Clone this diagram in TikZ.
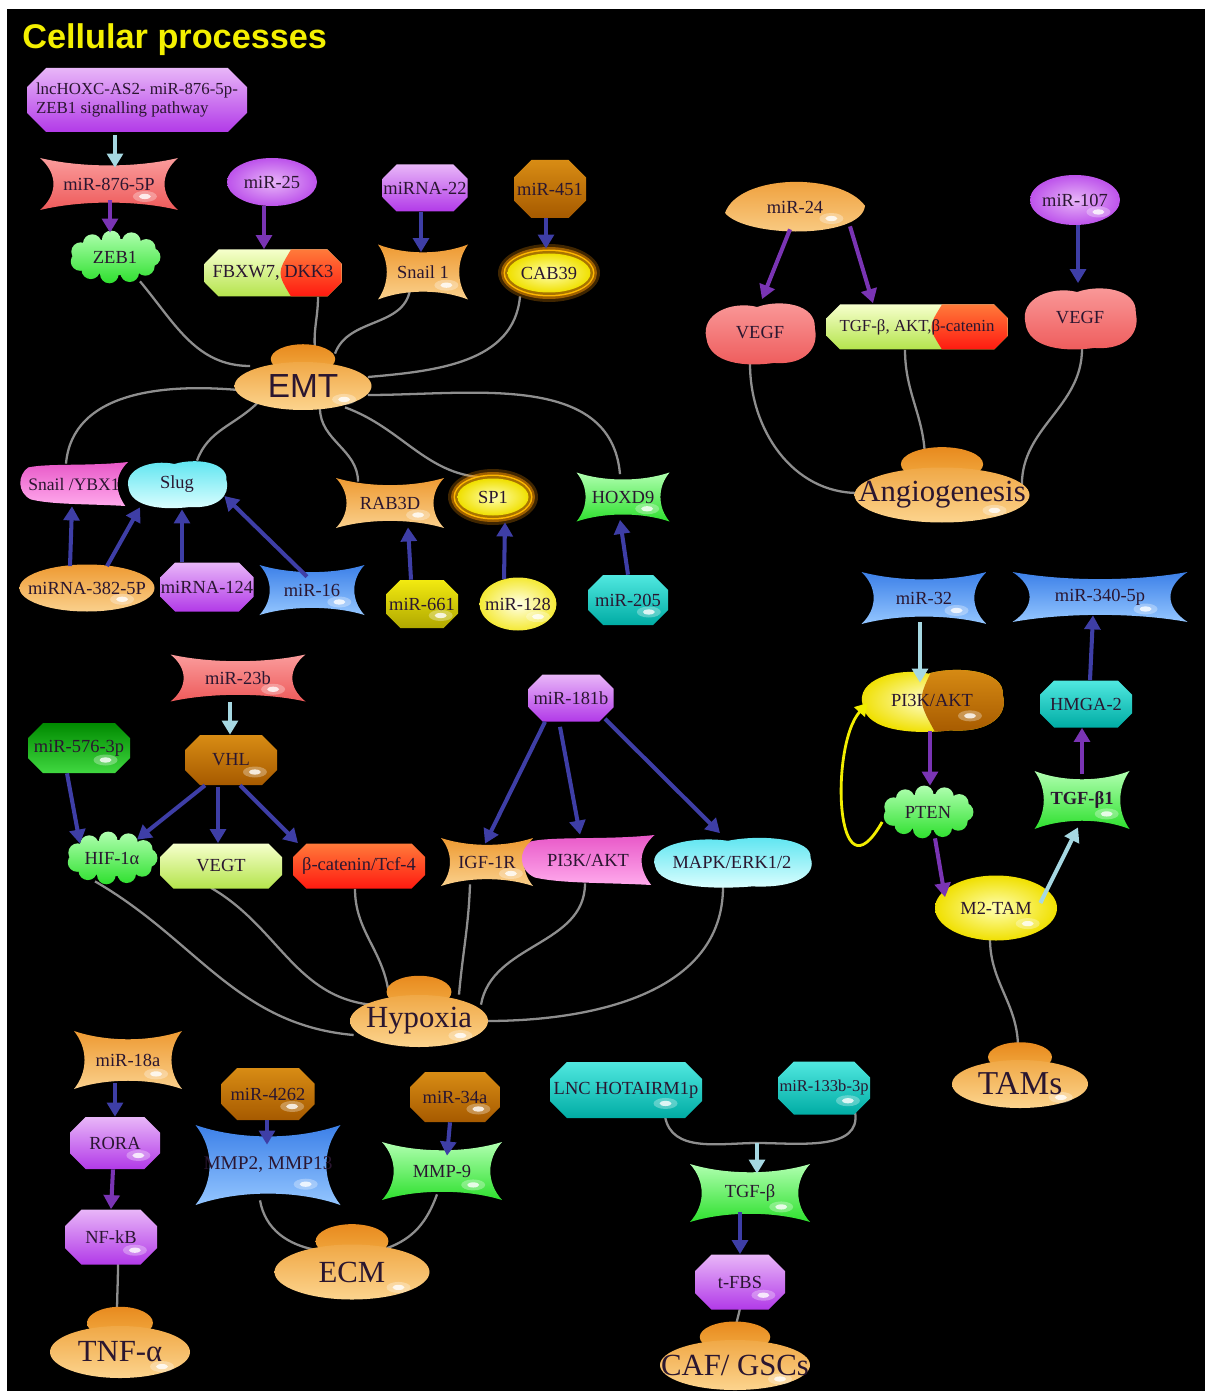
\documentclass[tikz,border=0pt]{standalone}
\usepackage{fontspec}
\setmainfont{Liberation Serif}
\newfontfamily\sansb{Liberation Sans}
\usetikzlibrary{arrows.meta,calc}
\definecolor{purL}{HTML}{E8B6F8}\definecolor{purD}{HTML}{B23AE8}
\definecolor{salL}{HTML}{FA9C9C}\definecolor{salD}{HTML}{EE5A5A}
\definecolor{grnL}{HTML}{B0FFB0}\definecolor{grnD}{HTML}{2EE02E}
\definecolor{orgL}{HTML}{FAD08C}\definecolor{orgD}{HTML}{EE9A32}
\definecolor{brnL}{HTML}{D88C14}\definecolor{brnD}{HTML}{A65A00}
\definecolor{yelL}{HTML}{FFFFB0}\definecolor{yelD}{HTML}{F0E000}
\definecolor{cynL}{HTML}{E0FFFF}\definecolor{cynD}{HTML}{58E4F0}
\definecolor{tealL}{HTML}{50E8E0}\definecolor{tealD}{HTML}{00ACA4}
\definecolor{bluL}{HTML}{94C6FF}\definecolor{bluD}{HTML}{3C80E8}
\definecolor{pnkL}{HTML}{FFAAEC}\definecolor{pnkD}{HTML}{E858C8}
\definecolor{lgyL}{HTML}{F6FFCC}\definecolor{lgyD}{HTML}{B4E44C}
\definecolor{redL}{HTML}{FF7A3A}\definecolor{redD}{HTML}{FF1A10}
\definecolor{dgrL}{HTML}{40D840}\definecolor{dgrD}{HTML}{008A00}
\definecolor{olvL}{HTML}{F2EA10}\definecolor{olvD}{HTML}{B0A800}
\definecolor{glowD}{HTML}{A87400}\definecolor{glowO}{HTML}{FF9A00}
\definecolor{pbT}{HTML}{E88A1E}\definecolor{pbB}{HTML}{F2AC44}
\definecolor{pmT}{HTML}{F0A846}\definecolor{pmB}{HTML}{FCD48E}
\definecolor{arB}{HTML}{3E3EA6}\definecolor{arP}{HTML}{7A34B4}
\definecolor{arL}{HTML}{A6D8E2}\definecolor{grayc}{HTML}{8E8E8E}
\definecolor{yelA}{HTML}{F2EE00}\definecolor{txt}{HTML}{2A1630}
\definecolor{titleY}{HTML}{F4F000}
\pgfdeclarelayer{bg}\pgfdeclarelayer{lines}\pgfsetlayers{bg,lines,main}
\tikzset{
 lbl/.style={font=\fontsize{10.5}{12}\selectfont, text=txt, inner sep=0pt, align=center},
 big/.style={font=\fontsize{17.5}{20}\selectfont, text=txt, inner sep=0pt, align=center},
 purp/.style={top color=purL,bottom color=purD},
 purR/.style={inner color=purL,outer color=purD!80!purL},
 sal/.style={top color=salL,bottom color=salD},
 grn/.style={top color=grnL,bottom color=grnD},
 org/.style={top color=orgD,bottom color=orgL},
 brn/.style={top color=brnL,bottom color=brnD},
 yelR/.style={inner color=yelL,outer color=yelD},
 yelT/.style={inner color=yelL!50!white,outer color=yelD},
 lyR/.style={inner color=white!70!yelL,outer color=yelD!70!yelL},
 cyn/.style={top color=cynD,bottom color=cynL},
 teal/.style={top color=tealL,bottom color=tealD},
 blu/.style={top color=bluD,bottom color=bluL},
 pnk/.style={top color=pnkD,bottom color=pnkL},
 lgy/.style={top color=lgyL,bottom color=lgyD},
 red/.style={top color=redL,bottom color=redD},
 dgr/.style={top color=dgrD,bottom color=dgrL},
 olv/.style={top color=olvL,bottom color=olvD},
 pmain/.style={top color=pmT,bottom color=pmB},
 ab/.style={draw=arB,line width=2.3pt,-{Triangle[width=9pt,length=8pt]}},
 ap/.style={draw=arP,line width=2.3pt,-{Triangle[width=9pt,length=8pt]}},
 al/.style={draw=arL,line width=2.3pt,-{Triangle[width=9pt,length=8pt]}},
 ay/.style={draw=yelA,line width=1.6pt,-{Triangle[width=8pt,length=7pt]}},
 gl/.style={draw=grayc,line width=1.3pt},
 pics/pOcto/.style n args={3}{code={%
  \pgfmathsetmacro\shW{#1/2}\pgfmathsetmacro\shH{#2/2}\pgfmathsetmacro\shC{0.3*#2}%
  \shade[#3] (-\shW+\shC,-\shH) -- (\shW-\shC,-\shH) -- (\shW,-\shH+\shC) -- (\shW,\shH-\shC) -- (\shW-\shC,\shH) -- (-\shW+\shC,\shH) -- (-\shW,\shH-\shC) -- (-\shW,-\shH+\shC) -- cycle;}},
 pics/pStar/.style n args={3}{code={%
  \pgfmathsetmacro\shW{#1/2}\pgfmathsetmacro\shH{#2/2}%
  \shade[#3] (-\shW,-\shH) .. controls (-0.4*\shW,-0.62*\shH) and (0.4*\shW,-0.62*\shH) .. (\shW,-\shH) .. controls (0.74*\shW,-0.4*\shH) and (0.74*\shW,0.4*\shH) .. (\shW,\shH) .. controls (0.4*\shW,0.62*\shH) and (-0.4*\shW,0.62*\shH) .. (-\shW,\shH) .. controls (-0.74*\shW,0.4*\shH) and (-0.74*\shW,-0.4*\shH) .. cycle;}},
 pics/pEll/.style n args={3}{code={%
  \pgfmathsetmacro\shW{#1/2}\pgfmathsetmacro\shH{#2/2}%
  \shade[#3] (0,0) ellipse ({\shW} and {\shH});}},
 pics/pBlob/.style n args={3}{code={%
  \pgfmathsetmacro\shW{#1/2}\pgfmathsetmacro\shH{#2/2}%
  \shade[#3] (-0.95*\shW,0.15*\shH) .. controls (-1.05*\shW,-0.6*\shH) and (-0.5*\shW,-1.0*\shH) .. (-0.05*\shW,-0.8*\shH) .. controls (0.35*\shW,-1.05*\shH) and (1.0*\shW,-0.9*\shH) .. (0.97*\shW,-0.15*\shH) .. controls (1.05*\shW,0.45*\shH) and (0.8*\shW,1.0*\shH) .. (0.25*\shW,0.92*\shH) .. controls (-0.25*\shW,1.05*\shH) and (-0.9*\shW,0.95*\shH) .. cycle;}},
 pics/pLeaf/.style n args={3}{code={%
  \pgfmathsetmacro\shW{#1/2}\pgfmathsetmacro\shH{#2/2}%
  \shade[#3] (-\shW,0.25*\shH) .. controls (-0.8*\shW,-1.4*\shH) and (0.65*\shW,-1.45*\shH) .. (\shW,-0.05*\shH) .. controls (0.95*\shW,1.35*\shH) and (-0.7*\shW,1.3*\shH) .. cycle;}},
 pics/pNotch/.style n args={3}{code={%
  \pgfmathsetmacro\shW{#1/2}\pgfmathsetmacro\shH{#2/2}%
  \shade[#3] (-0.85*\shW,-0.75*\shH) .. controls (-0.5*\shW,-0.95*\shH) and (0.3*\shW,-0.8*\shH) .. (\shW,-\shH) .. controls (0.75*\shW,-0.4*\shH) and (0.75*\shW,0.3*\shH) .. (0.95*\shW,\shH) .. controls (0.3*\shW,0.9*\shH) and (-0.4*\shW,0.95*\shH) .. (-0.8*\shW,0.7*\shH) .. controls (-1.05*\shW,0.4*\shH) and (-1.05*\shW,-0.4*\shH) .. cycle;}},
 pics/pCloud/.style n args={3}{code={%
  \pgfmathsetmacro\shW{#1/2}\pgfmathsetmacro\shH{#2/2}%
  \shade[#3] (0,0) ellipse ({0.8*\shW} and {0.7*\shH}) foreach \a in {0,33,...,330} {({0.76*\shW*cos(\a)},{0.66*\shH*sin(\a)}) circle ({0.36*\shH})};}},
 pics/pSplit/.style n args={3}{code={%
  \pgfmathsetmacro\shW{#1/2}\pgfmathsetmacro\shH{#2/2}\pgfmathsetmacro\shC{0.3*#2}%
  \begin{scope}
  \clip (-\shW+\shC,-\shH) -- (\shW-\shC,-\shH) -- (\shW,-\shH+\shC) -- (\shW,\shH-\shC) -- (\shW-\shC,\shH) -- (-\shW+\shC,\shH) -- (-\shW,\shH-\shC) -- (-\shW,-\shH+\shC) -- cycle;
  \shade[top color=lgyL,bottom color=lgyD] (-\shW,-\shH) rectangle (\shW,\shH);
  \shade[top color=redL,bottom color=redD] (#3,-\shH) .. controls ({#3-14},0) .. (#3,\shH) -- (\shW,\shH) -- (\shW,-\shH) -- cycle;
  \end{scope}}},
 pics/pTwo/.style n args={3}{code={%
  \pgfmathsetmacro\shW{#1/2}\pgfmathsetmacro\shH{#2/2}%
  \begin{scope}
  \clip (-0.95*\shW,0.15*\shH) .. controls (-1.05*\shW,-0.6*\shH) and (-0.5*\shW,-1.0*\shH) .. (-0.05*\shW,-0.8*\shH) .. controls (0.35*\shW,-1.05*\shH) and (1.0*\shW,-0.9*\shH) .. (0.97*\shW,-0.15*\shH) .. controls (1.05*\shW,0.45*\shH) and (0.8*\shW,1.0*\shH) .. (0.25*\shW,0.92*\shH) .. controls (-0.25*\shW,1.05*\shH) and (-0.9*\shW,0.95*\shH) .. cycle;
  \shade[#3] (-\shW,-\shH) rectangle (\shW,\shH);
  \shade[top color=brnL,bottom color=brnD] (0.02*\shW,-\shH) .. controls (-0.2*\shW,0) .. (0.05*\shW,\shH) -- (\shW,\shH) -- (\shW,-\shH) -- cycle;
  \end{scope}}},
 pics/pGlow/.style n args={3}{code={%
  \pgfmathsetmacro\shW{#1/2}\pgfmathsetmacro\shH{#2/2}%
  \fill[glowO,opacity=.25] (0,0) ellipse ({\shW+7} and {\shH+7});
  \fill[glowO,opacity=.5] (0,0) ellipse ({\shW+4} and {\shH+4});
  \fill[glowO!70!yellow] (0,0) ellipse ({\shW+1.5} and {\shH+1.5});
  \fill[glowD] (0,0) ellipse ({\shW} and {\shH});
  \shade[#3] (0,0) ellipse ({\shW-2.5} and {\shH-2.5});}},
 pics/pProc/.style n args={3}{code={%
  \pgfmathsetmacro\shW{#1/2}\pgfmathsetmacro\shH{#2/2}%
  \shade[top color=pbT,bottom color=pbB] (0,{-1.12*\shH}) ellipse ({0.47*\shW} and {0.62*\shH});
  \shade[#3] (0,0) ellipse ({\shW} and {\shH});}},
}
\newcommand\glossat[2]{\fill[white,opacity=.3] (#1,#2) ellipse (12 and 5.5);\fill[white,opacity=.8] (#1,#2) ellipse (6 and 2.6);}
\newcommand\E[8]{\pic at (#2,#3) {#6={#4}{#5}{#7}};%
 \node[lbl,minimum width={#4*0.02cm},minimum height={#5*0.02cm}] (#1) at (#2,#3) {#8};}
\newcommand\EG[8]{\pic at (#2,#3) {#6={#4}{#5}{#7}};%
 \glossat{#2+0.26*#4}{#3+0.24*#5}%
 \node[lbl,minimum width={#4*0.02cm},minimum height={#5*0.02cm}] (#1) at (#2,#3) {#8};}
\newcommand\PR[6]{\pic at (#2,#3) {pProc={#4}{#5}{pmain}};%
 \glossat{#2+0.3*#4}{#3+0.28*#5}%
 \node[big,minimum width={#4*0.02cm},minimum height={#5*0.02cm}] (#1) at (#2,#3) {#6};}
\begin{document}
\begin{tikzpicture}[x=0.02cm,y=-0.02cm]
\useasboundingbox (0,0) rectangle (1205,1391);
\begin{pgfonlayer}{bg}
\fill[white] (0,0) rectangle (1205,1391);
\fill[black] (7,9) rectangle (1205,1391);
\end{pgfonlayer}
\node[font=\sansb\bfseries\fontsize{19.5}{23}\selectfont,text=titleY,anchor=west,inner sep=0pt] (title) at (22,40) {Cellular processes};
% EMT block
\E{lnc}{137}{100}{220}{64}{pOcto}{purp}{\fontsize{9.6}{11}\selectfont\begin{tabular}{@{}l@{}}lncHOXC-AS2- miR-876-5p-\\ZEB1 signalling pathway\end{tabular}}
\EG{m876}{109}{184}{138}{52}{pStar}{sal}{miR-876-5P}
\E{zeb1}{115}{257}{95}{52}{pCloud}{grn}{ZEB1}
\E{m25}{272}{182}{90}{48}{pEll}{purR}{miR-25}
\E{fbx}{273}{273}{137}{47}{pSplit}{18}{FBXW7, DKK3}
\E{m22}{425}{188}{85}{47}{pOcto}{purp}{miRNA-22}
\EG{snail1}{423}{272}{90}{55}{pStar}{org}{Snail 1}
\E{m451}{550}{189}{72}{58}{pOcto}{brn}{miR-451}
\E{cab39}{549}{273}{88}{44}{pGlow}{yelR}{CAB39}
\PR{emt}{303}{386}{137}{48}{\sansb\fontsize{19}{21}\selectfont EMT}
\E{snyb}{74}{484}{108}{44}{pNotch}{pnk}{\fontsize{10}{12}\selectfont Snail /YBX1}
\E{slug}{177}{484}{102}{50}{pBlob}{cyn}{Slug}
\EG{rab3d}{390}{503}{108}{50}{pStar}{org}{RAB3D}
\E{sp1}{493}{497}{76}{42}{pGlow}{yelR}{SP1}
\EG{hoxd9}{623}{497}{93}{49}{pStar}{grn}{HOXD9}
\EG{m382}{87}{588}{135}{47}{pEll}{org}{miRNA-382-5P}
\E{m124}{207}{587}{93}{49}{pOcto}{purp}{miRNA-124}
\EG{m16}{312}{590}{105}{50}{pStar}{blu}{miR-16}
\EG{m661}{422}{604}{72}{48}{pOcto}{olv}{miR-661}
\EG{m128}{518}{604}{77}{53}{pEll}{lyR}{miR-128}
\EG{m205}{628}{600}{80}{50}{pOcto}{teal}{miR-205}
% Angiogenesis block
\EG{m24}{795}{207}{140}{48}{pLeaf}{org}{miR-24}
\EG{m107}{1075}{200}{90}{50}{pEll}{purR}{miR-107}
\E{vegf1}{760}{333}{113}{65}{pBlob}{sal}{VEGF}
\E{tgf}{917}{327}{181}{45}{pSplit}{25}{\fontsize{9.6}{11}\selectfont TGF-β, AKT,β-catenin}
\E{vegf2}{1080}{318}{115}{65}{pBlob}{sal}{VEGF}
\PR{angio}{942}{495}{175}{55}{Angiogenesis}
% Hypoxia block
\EG{m23b}{238}{678}{135}{47}{pStar}{sal}{miR-23b}
\EG{vhl}{231}{760}{92}{50}{pOcto}{brn}{VHL}
\EG{m576}{79}{748}{102}{50}{pOcto}{dgr}{miR-576-3p}
\E{vegt}{221}{866}{122}{45}{pOcto}{lgy}{VEGT}
\E{hif}{112}{858}{95}{52}{pCloud}{grn}{HIF-1α}
\E{bcat}{359}{866}{132}{45}{pOcto}{red}{β-catenin/Tcf-4}
\EG{igf}{487}{862}{92}{48}{pStar}{org}{IGF-1R}
\E{pi3kp}{588}{860}{133}{50}{pNotch}{pnk}{PI3K/AKT}
\E{mapk}{732}{862}{162}{53}{pBlob}{cyn}{MAPK/ERK1/2}
\E{m181}{571}{698}{85}{47}{pOcto}{purp}{miR-181b}
\PR{hyp}{419}{1021}{138}{52}{Hypoxia}
% TAM block
\EG{m32}{924}{598}{125}{52}{pStar}{blu}{miR-32}
\EG{m340}{1100}{597}{175}{50}{pStar}{blu}{miR-340-5p}
\EG{pi3ky}{932}{700}{146}{66}{pTwo}{yelT}{PI3K/AKT}
\E{hmga}{1086}{704}{92}{47}{pOcto}{teal}{HMGA-2}
\E{pten}{928}{812}{95}{52}{pCloud}{grn}{PTEN}
\EG{tgfb1}{1082}{800}{95}{58}{pStar}{grn}{\bfseries TGF-β1}
\EG{m2tam}{996}{908}{122}{65}{pEll}{yelR}{M2-TAM}
\PR{tams}{1020}{1084}{136}{48}{\fontsize{19}{21}\selectfont TAMs}
% bottom blocks
\EG{m18a}{128}{1060}{108}{58}{pStar}{org}{miR-18a}
\EG{rora}{115}{1143}{90}{52}{pOcto}{purp}{RORA}
\EG{nfkb}{111}{1237}{92}{55}{pOcto}{purp}{NF-kB}
\PR{tnf}{120}{1352}{140}{52}{TNF-α}
\EG{m4262}{268}{1094}{93}{52}{pOcto}{brn}{miR-4262}
\EG{mmp2}{268}{1165}{145}{80}{pStar}{blu}{\fontsize{11}{13}\selectfont MMP2, MMP13}
\EG{m34a}{455}{1097}{90}{50}{pOcto}{brn}{miR-34a}
\EG{mmp9}{442}{1171}{120}{58}{pStar}{grn}{MMP-9}
\PR{ecm}{352}{1272}{155}{55}{ECM}
\EG{lnchot}{626}{1090}{152}{56}{pOcto}{teal}{LNC HOTAIRM1p}
\EG{m133}{824}{1088}{92}{53}{pOcto}{teal}{\fontsize{9.4}{11}\selectfont miR-133b-3p}
\EG{tgfb}{750}{1193}{120}{58}{pStar}{grn}{TGF-β}
\EG{tfbs}{740}{1282}{90}{55}{pOcto}{purp}{t-FBS}
\PR{caf}{735}{1365}{150}{50}{CAF/ GSCs}
\coordinate (mrg) at (757,1143);
% gray links (drawn beneath shapes)
\begin{pgfonlayer}{lines}
\draw[gl] ($(zeb1.south)+(25,-2)$) to[out=-50,in=180] ($(emt.west)+(16,-20)$);
\draw[gl] ($(fbx.south)+(45,0)$) to[out=-90,in=95] ($(emt.north)+(12,-12)$);
\draw[gl] ($(snail1.south)+(-13,-10)$) to[out=-100,in=70] ($(emt.north)+(32,-8)$);
\draw[gl] ($(cab39.south)+(-29,1)$) to[out=-95,in=5] ($(emt.east)+(-4,-9)$);
\draw[gl] ($(emt.west)+(4,4)$) to[out=175,in=85] ($(snyb.north)+(-8,2)$);
\draw[gl] ($(emt.south)+(-45,-8)$) to[out=225,in=70] ($(slug.north)+(20,2)$);
\draw[gl] ($(emt.south)+(17,-2)$) to[out=-90,in=90] ($(rab3d.north)+(-32,4)$);
\draw[gl] ($(emt.south)+(42,-3)$) to[out=-20,in=180] ($(sp1.north)+(-3,2)$);
\draw[gl] ($(emt.east)+(-4,9)$) to[out=0,in=95] ($(hoxd9.north)+(-3,2)$);
\draw[gl] ($(vegf1.south)+(-10,-2)$) to[out=-90,in=180] ($(angio.west)+(4,-2)$);
\draw[gl] ($(tgf.south)+(-12,0)$) to[out=-90,in=90] ($(angio.north)+(-17,-6)$);
\draw[gl] ($(vegf2.south)+(2,-2)$) to[out=-90,in=90] ($(angio.east)+(-8,-10)$);
\draw[gl] ($(hif.south)+(-17,-3)$) to[out=-30,in=175] ($(hyp.west)+(4,14)$);
\draw[gl] ($(vegt.south)+(-10,-1)$) to[out=-30,in=175] ($(hyp.west)+(24,-16)$);
\draw[gl] ($(bcat.south)+(-4,0)$) to[out=-90,in=100] ($(hyp.north)+(-31,-6)$);
\draw[gl] ($(igf.south)+(-17,-2)$) to[out=-92,in=85] ($(hyp.north)+(40,0)$);
\draw[gl] ($(pi3kp.south)+(-3,-2)$) to[out=-90,in=80] ($(hyp.north)+(62,10)$);
\draw[gl] ($(mapk.south)+(-9,-2)$) to[out=-90,in=0] ($(hyp.east)+(-2,0)$);
\draw[gl] ($(m2tam.south)+(-6,-2)$) to[out=-90,in=90] ($(tams.north)+(-2,-12)$);
\draw[gl] ($(nfkb.south)+(7,-2)$) to[out=-90,in=90] ($(tnf.north)+(-3,-10)$);
\draw[gl] ($(mmp2.south)+(-8,-5)$) to[out=-80,in=170] ($(ecm.north)+(-35,6)$);
\draw[gl] ($(mmp9.south)+(-5,-6)$) to[out=-110,in=20] ($(ecm.north)+(35,4)$);
\draw[gl] ($(lnchot.south)+(39,-2)$) to[out=-80,in=180] (mrg) to[out=0,in=-80] ($(m133.south)+(31,-3)$);
\draw[gl] ($(tfbs.south)+(0,-2)$) to[out=-100,in=80] ($(caf.north)+(0,-10)$);
\end{pgfonlayer}
% arrows
\draw[al] ($(lnc.south)+(-22,3)$) -- ($(m876.north)+(6,10)$);
\draw[ap] ($(m876.south)+(1,-10)$) -- ($(zeb1.north)+(-5,2)$);
\draw[ap] ($(m25.south)+(-8,0)$) -- ($(fbx.north)+(-9,0)$);
\draw[ab] ($(m22.south)+(-4,0)$) -- ($(snail1.north)+(-2,8)$);
\draw[ab] ($(m451.south)+(-4,0)$) -- ($(cab39.north)+(-3,-2)$);
\draw[ab] ($(m382.north)+(-17,2)$) -- ($(snyb.south)+(-2,0)$);
\draw[ab] ($(m382.north)+(20,2)$) -- ($(slug.south)+(-37,-2)$);
\draw[ab] ($(m124.north)+(-25,0)$) -- ($(slug.south)+(5,0)$);
\draw[ab] ($(m16.north)+(-5,12)$) -- ($(slug.east)+(-4,12)$);
\draw[ab] ($(m661.north)+(-11,0)$) -- ($(rab3d.south)+(18,-1)$);
\draw[ab] ($(m128.north)+(-14,2)$) -- ($(sp1.south)+(12,4)$);
\draw[ab] (m205.north) -- ($(hoxd9.south)+(-3,-2)$);
\draw[ap] ($(m24.south)+(-5,-2)$) -- ($(vegf1.north)+(2,-1)$);
\draw[ap] ($(m24.south)+(55,-5)$) -- ($(tgf.north)+(-44,-1)$);
\draw[ab] ($(m107.south)+(3,0)$) -- ($(vegf2.north)+(-2,-2)$);
\draw[al] ($(m23b.south)+(-8,0)$) -- ($(vhl.north)+(-1,0)$);
\draw[ab] ($(m576.south)+(-12,0)$) -- ($(hif.north)+(-32,12)$);
\draw[ab] ($(vhl.south)+(-26,0)$) -- ($(hif.north)+(25,8)$);
\draw[ab] ($(vhl.south)+(-13,2)$) -- ($(vegt.north)+(-3,0)$);
\draw[ab] ($(vhl.south)+(9,0)$) -- ($(bcat.north)+(-61,0)$);
\draw[ab] ($(m181.south)+(-26,0)$) -- ($(igf.north)+(-2,6)$);
\draw[ab] ($(m181.south)+(-11,5)$) -- ($(pi3kp.north)+(-8,0)$);
\draw[ab] ($(m181.south)+(34,-3)$) -- ($(mapk.north)+(-12,-2)$);
\draw[al] ($(m32.south)+(-4,-2)$) -- ($(pi3ky.north)+(-12,16)$);
\draw[ap] ($(pi3ky.south)+(-2,-2)$) -- ($(pten.north)+(2,0)$);
\draw[ap] ($(pten.south)+(7,0)$) -- ($(m2tam.north)+(-51,22)$);
\draw[al] ($(m2tam.east)+(-17,-5)$) -- ($(tgfb1.south)+(-4,-2)$);
\draw[ap] ($(tgfb1.north)+(0,3)$) -- ($(hmga.south)+(-4,0)$);
\draw[ab] ($(hmga.north)+(4,0)$) -- ($(m340.south)+(-7,-7)$);
\draw[ay] ($(pten.west)+(2,10)$) .. controls ($(pten.west)+(-45,93)$) and ($(pi3ky.west)+(-29,45)$) .. ($(pi3ky.west)+(9,3)$);
\draw[ab] ($(m18a.south)+(-13,-6)$) -- (rora.north);
\draw[ap] ($(rora.south)+(-2,0)$) -- (nfkb.north);
\draw[ab] ($(m4262.south)+(-1,0)$) -- ($(mmp2.north)+(-1,20)$);
\draw[ab] ($(m34a.south)+(-5,0)$) -- ($(mmp9.north)+(5,14)$);
\draw[al] (mrg) -- ($(tgfb.north)+(7,10)$);
\draw[ab] ($(tgfb.south)+(-10,-10)$) -- (tfbs.north);
\end{tikzpicture}
\end{document}
